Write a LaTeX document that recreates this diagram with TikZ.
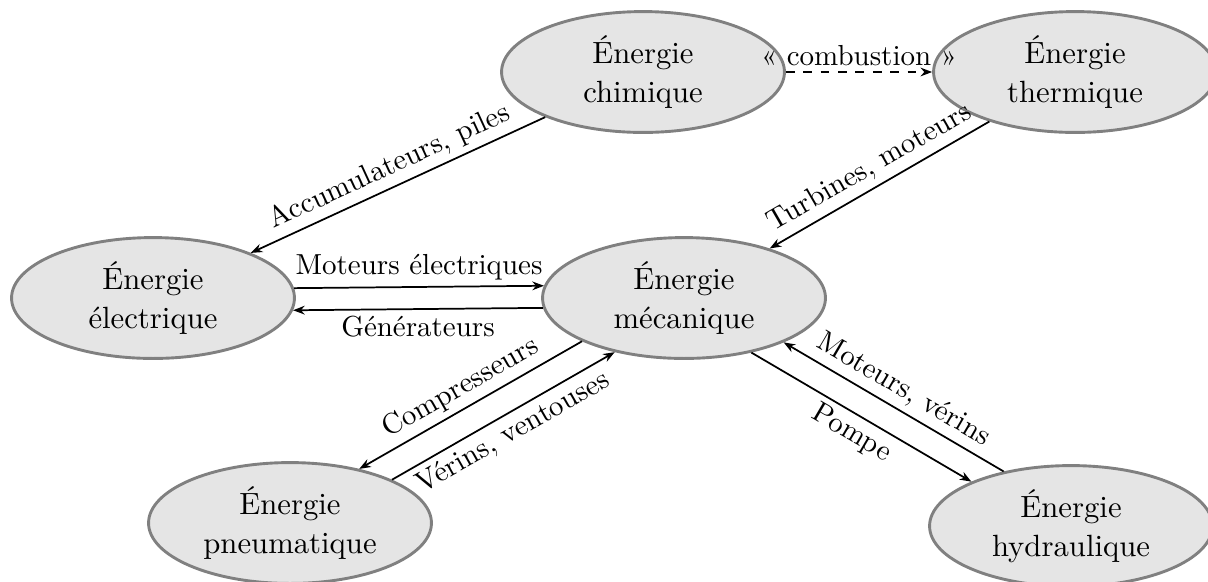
\documentclass[tikz,border=0pt]{standalone}
\usetikzlibrary{shapes.geometric,arrows.meta}
\begin{document}
\begin{tikzpicture}[x=0.345pt,y=-0.345pt,
  energie/.style={ellipse, draw=gray, fill=gray!20, line width=1pt,
    minimum width=97.6pt, minimum height=41.7pt, inner sep=0pt,
    align=center, font=\fontsize{10.6}{13.6}\selectfont},
  flux/.style={-{Stealth[length=4pt,width=3pt]}, line width=0.6pt},
  lbl/.style={inner sep=2pt}]
\useasboundingbox (0,0) rectangle (1208,581);
\node[energie] (chim)  at (643,72)   {Énergie\\chimique};
\node[energie] (therm) at (1075,72)  {Énergie\\thermique};
\node[energie] (elec)  at (153,298)  {Énergie\\électrique};
\node[energie] (meca)  at (684,298)  {Énergie\\mécanique};
\node[energie] (pneu)  at (290,523)  {Énergie\\pneumatique};
\node[energie] (hydr)  at (1071,526) {Énergie\\hydraulique};

\draw[flux] (chim) -- node[lbl, sloped, above] {Accumulateurs, piles} (elec);
\draw[flux, dashed] (chim) -- node[lbl, above] {«~combustion~»} (therm);
\draw[flux] (therm) -- node[lbl, sloped, above] {Turbines, moteurs} (meca);
\draw[flux] (elec.4.94) -- node[lbl, above] {Moteurs électriques} (meca.175.06);
\draw[flux] (meca.184.94) -- node[lbl, below] {Générateurs} (elec.355.06);
\draw[flux] (meca.203.2) -- node[lbl, sloped, above] {Compresseurs} (pneu.38.0);
\draw[flux] (pneu.23.2) -- node[lbl, sloped, below] {Vérins, ventouses} (meca.218.0);
\draw[flux] (meca.321.1) -- node[lbl, sloped, below] {Pompe} (hydr.156.1);
\draw[flux] (hydr.141.1) -- node[lbl, sloped, above] {Moteurs, vérins} (meca.336.1);
\end{tikzpicture}
\end{document}
